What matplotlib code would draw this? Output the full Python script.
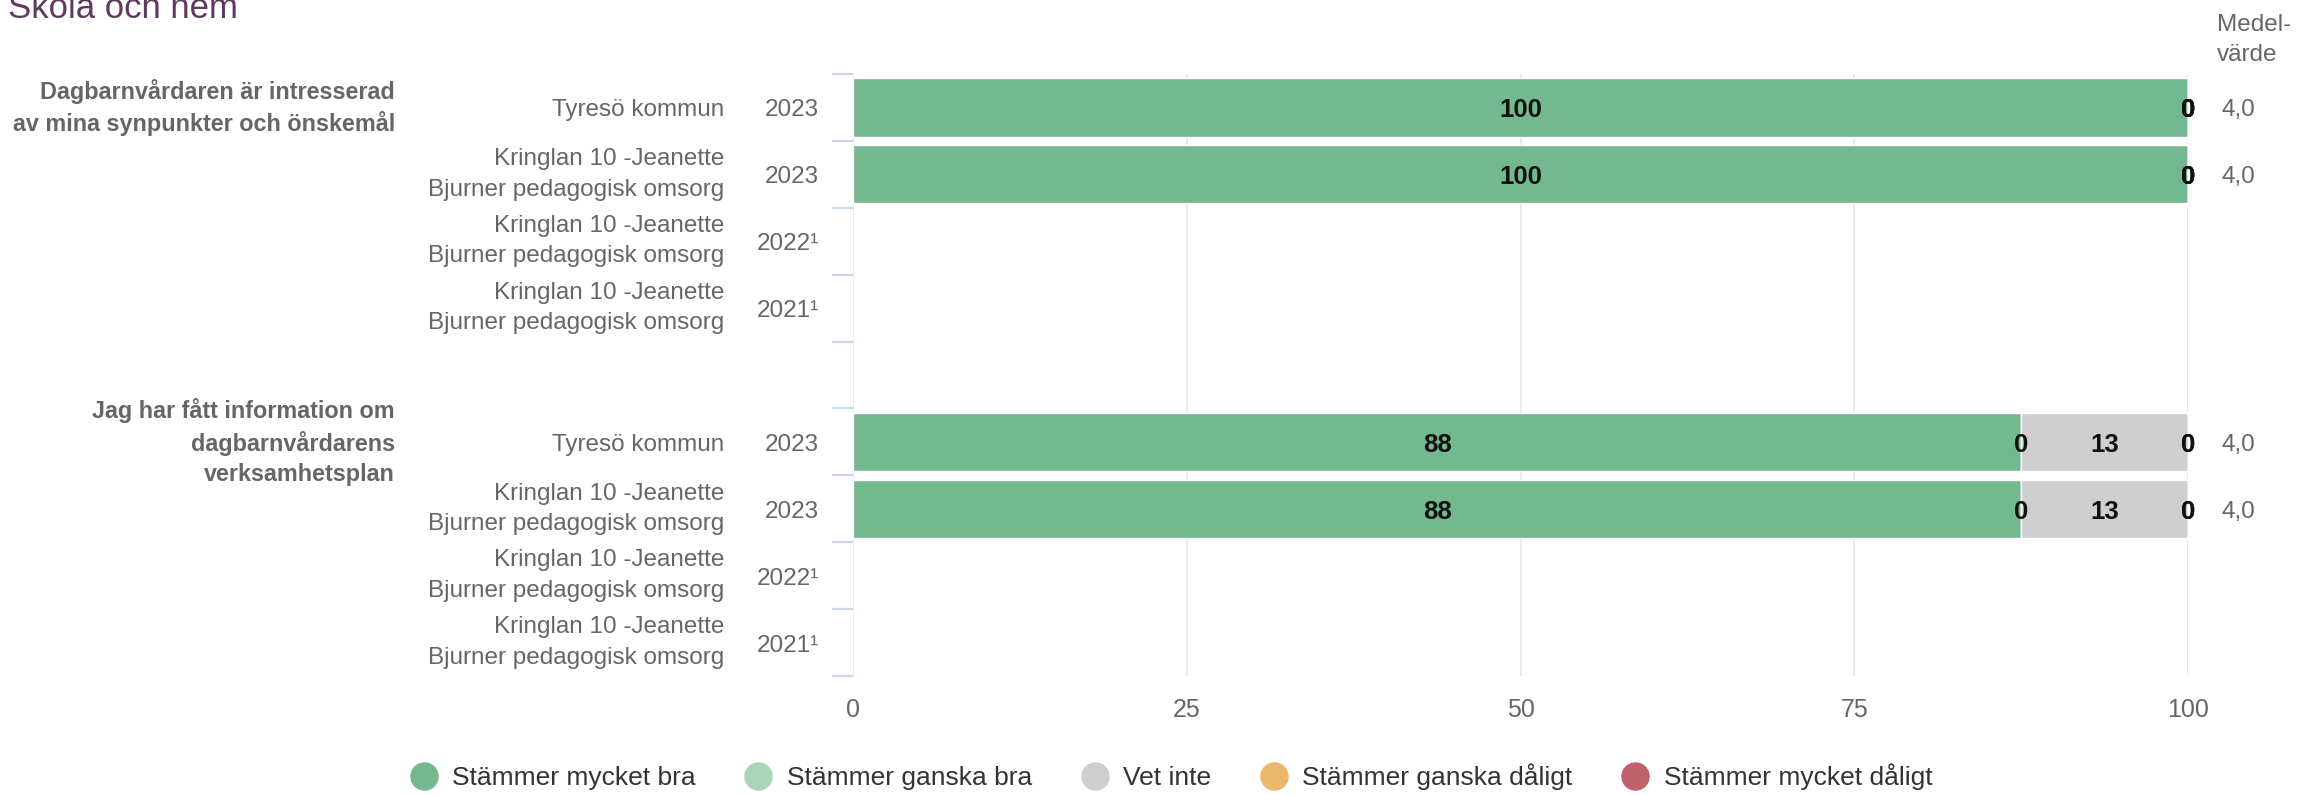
import matplotlib.pyplot as plt
import matplotlib.transforms as mtransforms
from matplotlib.lines import Line2D
import numpy as np

plt.rcParams['font.family'] = ['Liberation Sans', 'DejaVu Sans']

# ------------------------------
# Data
# ------------------------------
questions = ["Dagbarnvårdaren är intresserad\nav mina synpunkter och önskemål",
             "Jag har fått information om\ndagbarnvårdarens\nverksamhetsplan"]
units = ["Tyresö kommun",
         "Kringlan 10 -Jeanette\nBjurner pedagogisk omsorg",
         "Kringlan 10 -Jeanette\nBjurner pedagogisk omsorg",
         "Kringlan 10 -Jeanette\nBjurner pedagogisk omsorg"]
years = ["2023", "2023", "2022¹", "2021¹"]

series_names = ["Stämmer mycket bra", "Stämmer ganska bra", "Vet inte",
                "Stämmer ganska dåligt", "Stämmer mycket dåligt"]
colors = ["#74b88f", "#a9d5b9", "#cfcfcf", "#ebb86b", "#c0626b"]

nan = np.nan
mycket_bra = [100, 100, nan, nan, 87.5, 87.5, nan, nan]
ganska_bra = [0, 0, nan, nan, 0, 0, nan, nan]
vet_inte = [0, 0, nan, nan, 12.5, 12.5, nan, nan]
ganska_daligt = [0, 0, nan, nan, 0, 0, nan, nan]
mycket_daligt = [0, 0, nan, nan, 0, 0, nan, nan]
series = [mycket_bra, ganska_bra, vet_inte, ganska_daligt, mycket_daligt]

means = ["4,0", "4,0", "", "", "4,0", "4,0", "", ""]
xticks = [0, 25, 50, 75, 100]

# row slots: 4 rows per question, one empty slot between
rows = np.array([0, 1, 2, 3, 5, 6, 7, 8])

W, H = 2315, 795
fig = plt.figure(figsize=(W / 100, H / 100), dpi=100)
ax = fig.add_axes([853 / W, 1 - 676 / H, 1335 / W, 602 / H])

# single-line labels sit a few pixels lower than a plain 'center'
down = mtransforms.ScaledTranslation(0, -3 / 100, fig.dpi_scale_trans)

left = np.zeros(len(rows))
for name, vals, col in zip(series_names, series, colors):
    v = np.array(vals, dtype=float)
    m = ~np.isnan(v)
    ax.barh(rows[m], v[m], left=left[m], height=0.87, color=col,
            edgecolor='white', linewidth=1, zorder=3)
    for y, w, l in zip(rows[m], v[m], left[m]):
        ax.text(l + w / 2, y, f"{int(w + 0.5)}", ha='center', va='center',
                fontsize=18.5, fontweight='bold', color='#111111', zorder=4,
                transform=ax.transData + down)
    left[m] += v[m]

ax.set_xlim(0, 100)
ax.set_ylim(8.5, -0.5)
ax.set_xticks(xticks)
ax.set_xticklabels([str(t) for t in xticks])
ax.tick_params(axis='x', length=0, pad=16, labelsize=18, labelcolor='#666666')
ax.grid(axis='x', color='#e6e6e6', linewidth=1.2, zorder=0)
for s in ax.spines.values():
    s.set_visible(False)

# category boundary ticks
bounds = [-0.5, 0.5, 1.5, 2.5, 3.5, 4.5, 5.5, 6.5, 7.5, 8.5]
ax.set_yticks(bounds)
ax.set_yticklabels([])
ax.tick_params(axis='y', length=15, width=1.6, color='#ccd6eb')

# labels left of the plot
tr = mtransforms.blended_transform_factory(fig.transFigure, ax.transData)
for i, r in enumerate(rows):
    u = units[i % 4]
    ax.text(724 / W, r, u, transform=tr if "\n" in u else tr + down,
            ha='right', va='center', fontsize=17.5, color='#666666',
            linespacing=1.5)
    ax.text(819 / W, r, years[i % 4], transform=tr + down, ha='right',
            va='center', fontsize=17.5, color='#666666')
    if means[i]:
        ax.text(2221 / W, r, means[i], transform=tr + down, ha='left',
                va='center', fontsize=17.5, color='#666666')

for q, r in zip(questions, [0, 5]):
    ax.text(395 / W, r, q, transform=tr, ha='right', va='center',
            fontsize=16.8, fontweight='bold', color='#666666', linespacing=1.38)

fig.text(8 / W, 1 - 18 / H, "Skola och hem", fontsize=25, color='#5c3b5f',
         va='baseline')
fig.text(2217 / W, 1 - 14 / H, "Medel-\nvärde", fontsize=17.5, color='#666666',
         va='top', ha='left', linespacing=1.45)

handles = [Line2D([], [], marker='o', linestyle='', markersize=19.5, color=c)
           for c in colors]
fig.legend(handles, series_names, loc='center', bbox_to_anchor=(1171 / W, 1 - 777 / H),
           ncol=5, frameon=False, fontsize=19, handlelength=1.05,
           handletextpad=0.55, columnspacing=1.85, labelcolor='#333333')

fig.savefig("out.png", dpi=100)
